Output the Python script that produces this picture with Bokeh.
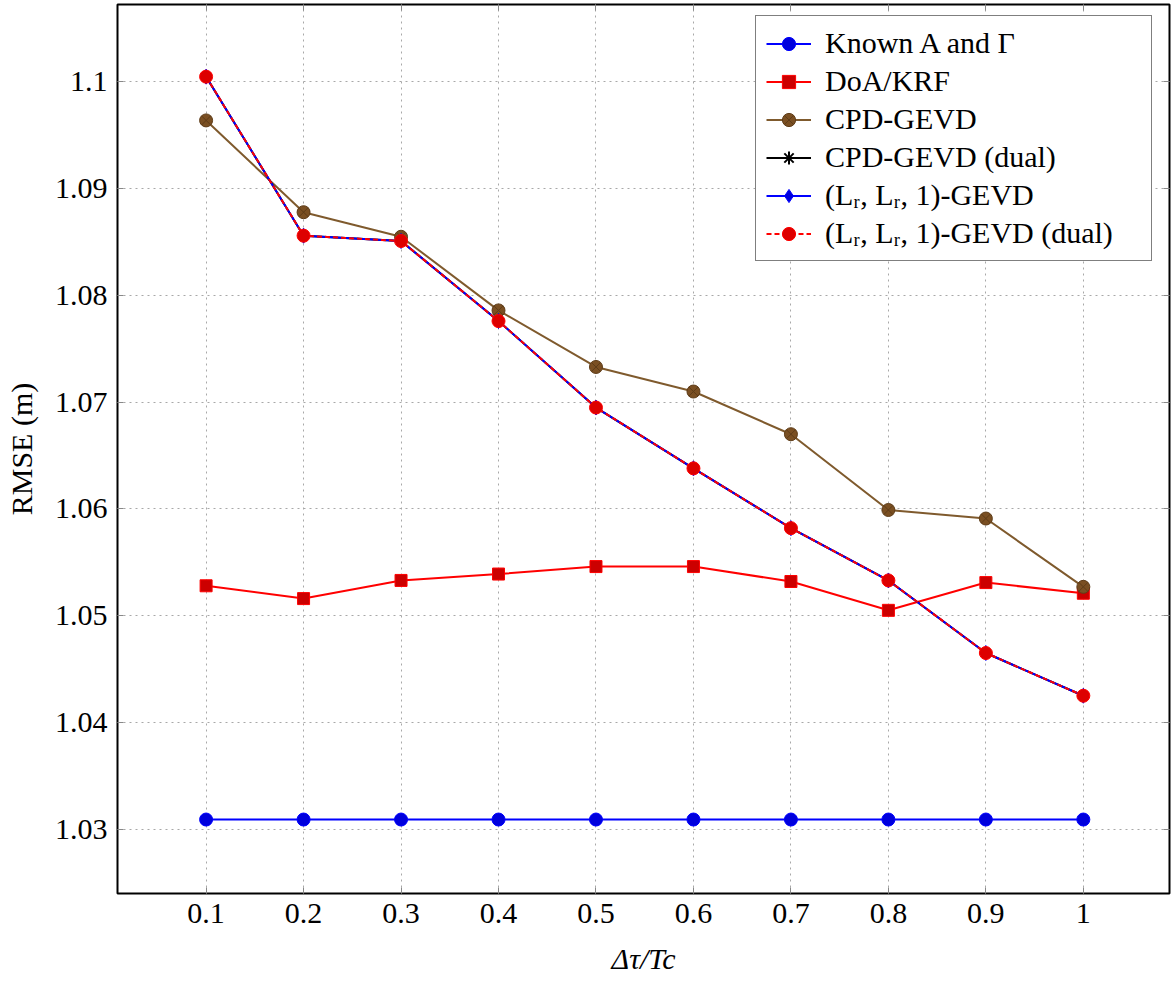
from bokeh.plotting import figure
from bokeh.models import FixedTicker, LinearAxis, Range1d, Legend, LegendItem, CustomLabelingPolicy
from bokeh.embed import file_html
from bokeh.resources import INLINE

# ---- data ----
x = [0.1, 0.2, 0.3, 0.4, 0.5, 0.6, 0.7, 0.8, 0.9, 1.0]
known = [1.0309, 1.0309, 1.0309, 1.0309, 1.0309, 1.0309, 1.0309, 1.0309, 1.0309, 1.0309]
doa_krf = [1.0528, 1.0516, 1.0533, 1.0539, 1.0546, 1.0546, 1.0532, 1.0505, 1.0531, 1.0521]
cpd_gevd = [1.0964, 1.0878, 1.0855, 1.0786, 1.0733, 1.0710, 1.0670, 1.0599, 1.0591, 1.0527]
cpd_gevd_dual = [1.1005, 1.0856, 1.0851, 1.0776, 1.0695, 1.0638, 1.0582, 1.0533, 1.0465, 1.0425]
ll1_gevd = [1.1005, 1.0856, 1.0851, 1.0776, 1.0695, 1.0638, 1.0582, 1.0533, 1.0465, 1.0425]
ll1_gevd_dual = [1.1005, 1.0856, 1.0851, 1.0776, 1.0695, 1.0638, 1.0582, 1.0533, 1.0465, 1.0425]

xticks = [0.1, 0.2, 0.3, 0.4, 0.5, 0.6, 0.7, 0.8, 0.9, 1.0]
xtick_labels = ["0.1", "0.2", "0.3", "0.4", "0.5", "0.6", "0.7", "0.8", "0.9", "1"]
yticks = [1.03, 1.04, 1.05, 1.06, 1.07, 1.08, 1.09, 1.1]
ytick_labels = ["1.03", "1.04", "1.05", "1.06", "1.07", "1.08", "1.09", "1.1"]

labels = ["Known A and \u0393", "DoA/KRF", "CPD-GEVD", "CPD-GEVD (dual)",
          "(L\u1d63, L\u1d63, 1)-GEVD", "(L\u1d63, L\u1d63, 1)-GEVD (dual)"]

FONT = "Liberation Serif"

p = figure(width=1176, height=985, output_backend="svg", toolbar_location=None,
           x_range=Range1d(0.0091, 1.0884), y_range=Range1d(1.02397, 1.10726),
           min_border_left=117, min_border_right=7, min_border_top=4, min_border_bottom=92)
p.xaxis.visible = False
p.yaxis.visible = False

p.outline_line_color = "black"
p.outline_line_width = 2
p.background_fill_color = "white"
p.border_fill_color = "white"

def make_axis(ticks, tick_labels, show_labels):
    ax = LinearAxis(ticker=FixedTicker(ticks=ticks))
    ax.axis_line_color = None
    ax.major_tick_in = 6
    ax.major_tick_out = 0
    ax.major_tick_line_color = "#888888"
    ax.major_tick_line_width = 1
    ax.minor_tick_line_color = None
    ax.major_label_text_font = FONT
    ax.major_label_text_color = "black"
    if show_labels:
        ax.major_label_text_font_size = "30px"
        ax.major_label_overrides = {t: l for t, l in zip(ticks, tick_labels)}
    else:
        ax.major_label_text_font_size = "0px"
        ax.major_label_standoff = 0
        ax.major_label_policy = CustomLabelingPolicy(code="return []")
    return ax

xax = make_axis(xticks, xtick_labels, True)
xax.major_label_standoff = 10
xax.axis_label = "\u0394\u03c4/Tc"
xax.axis_label_text_font = FONT
xax.axis_label_text_font_size = "30px"
xax.axis_label_text_font_style = "italic"
xax.axis_label_text_color = "black"
xax.axis_label_standoff = 16
p.add_layout(xax, "below")

yax = make_axis(yticks, ytick_labels, True)
yax.major_label_standoff = 10
yax.axis_label = "RMSE (m)"
yax.axis_label_text_font = FONT
yax.axis_label_text_font_size = "30px"
yax.axis_label_text_font_style = "normal"
yax.axis_label_text_color = "black"
yax.axis_label_standoff = 14
p.add_layout(yax, "left")

p.add_layout(make_axis(xticks, xtick_labels, False), "above")
p.add_layout(make_axis(yticks, ytick_labels, False), "right")

p.xgrid.ticker = FixedTicker(ticks=xticks)
p.ygrid.ticker = FixedTicker(ticks=yticks)
for g in (p.xgrid, p.ygrid):
    g.grid_line_color = "#a8a8a8"
    g.grid_line_dash = "2 4"
    g.grid_line_width = 1

BLUE = "#0000ff"
RED = "#ff0000"
BROWN = "#7f5a2d"

items = []

r1 = p.line(x, known, line_color=BLUE, line_width=2)
m1 = p.scatter(x, known, marker="circle", size=13, fill_color="#0000dd", line_color=BLUE, line_width=1)
items.append(LegendItem(label=labels[0], renderers=[r1, m1]))

r2 = p.line(x, doa_krf, line_color=RED, line_width=2)
m2 = p.scatter(x, doa_krf, marker="square", size=12, fill_color="#cc0000", line_color=RED, line_width=1)
items.append(LegendItem(label=labels[1], renderers=[r2, m2]))

r3 = p.line(x, cpd_gevd, line_color=BROWN, line_width=2)
m3 = p.scatter(x, cpd_gevd, marker="circle_x", size=13, fill_color="#7a4f22", line_color="#5e3c18", line_width=1)
items.append(LegendItem(label=labels[2], renderers=[r3, m3]))

r4 = p.line(x, cpd_gevd_dual, line_color="black", line_width=2)
m4 = p.scatter(x, cpd_gevd_dual, marker="asterisk", size=9, line_color="black", line_width=2)
items.append(LegendItem(label=labels[3], renderers=[r4, m4]))

r5 = p.line(x, ll1_gevd, line_color=BLUE, line_width=2)
m5 = p.scatter(x, ll1_gevd, marker="diamond", size=15, fill_color="#0000dd", line_color=BLUE, line_width=1)
items.append(LegendItem(label=labels[4], renderers=[r5, m5]))

r6 = p.line(x, ll1_gevd_dual, line_color=RED, line_width=2, line_dash="5 3")
m6 = p.scatter(x, ll1_gevd_dual, marker="circle", size=13, fill_color="#dd0000", line_color=RED, line_width=1)
items.append(LegendItem(label=labels[5], renderers=[r6, m6]))

legend = Legend(items=items, location=(638, 632))
legend.label_text_font = FONT
legend.label_text_font_size = "30px"
legend.label_text_color = "black"
legend.glyph_width = 45
legend.glyph_height = 33
legend.label_height = 33
legend.label_width = 316
legend.label_standoff = 14
legend.spacing = 4
legend.padding = 10
legend.margin = 0
legend.border_line_color = "black"
legend.border_line_width = 1.5
legend.background_fill_color = "white"
legend.background_fill_alpha = 1
p.add_layout(legend, "center")

open("out.html", "w").write(file_html(p, INLINE))
